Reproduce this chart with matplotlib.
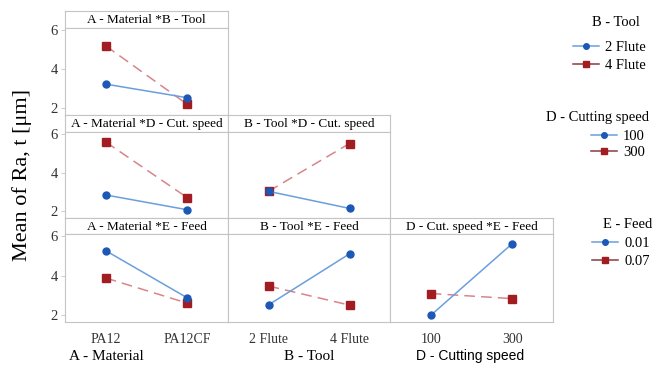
import matplotlib
matplotlib.use("Agg")
import matplotlib.pyplot as plt
from matplotlib.lines import Line2D

# factor levels
materials = ["PA12", "PA12CF"]
tools = ["2 Flute", "4 Flute"]
speeds = ["100", "300"]
feeds = ["0.01", "0.07"]

# interaction means (first trace = blue / circle, second = red / square)
ab_2flute = [3.23, 2.53]
ab_4flute = [5.20, 2.19]
ad_100 = [2.84, 2.07]
ad_300 = [5.60, 2.70]
bd_100 = [3.03, 2.14]
bd_300 = [3.03, 5.52]
ae_001 = [5.27, 2.87]
ae_007 = [3.88, 2.60]
be_001 = [2.51, 5.11]
be_007 = [3.47, 2.50]
de_001 = [1.98, 5.63]
de_007 = [3.09, 2.83]

plt.rcParams['font.family'] = ['Liberation Serif', 'DejaVu Serif']

W, H = 659, 366
fig = plt.figure(figsize=(W / 100, H / 100), dpi=100)

blue_m, blue_l = "#1c58b5", "#6a9fdc"
red_m, red_l = "#a11d22", "#d8858a"
edge = "#c4c4c4"

col_x = [65, 228, 390, 553]
rows = [(11, 28, 115), (115, 132, 218), (218, 234, 322)]  # strip top, plot top, plot bottom


def px_axes(x0, y0, x1, y1):
    return fig.add_axes([x0 / W, 1 - y1 / H, (x1 - x0) / W, (y1 - y0) / H])


panels = [
    (0, 0, "A - Material *B - Tool", materials, ab_2flute, ab_4flute),
    (1, 0, "A - Material *D - Cut. speed", materials, ad_100, ad_300),
    (1, 1, "B - Tool *D - Cut. speed", tools, bd_100, bd_300),
    (2, 0, "A - Material *E - Feed", materials, ae_001, ae_007),
    (2, 1, "B - Tool *E - Feed", tools, be_001, be_007),
    (2, 2, "D - Cut. speed *E - Feed", speeds, de_001, de_007),
]

for r, c, title, levels, s1, s2 in panels:
    st, pt, pb = rows[r]
    x0, x1 = col_x[c], col_x[c + 1]
    # title strip
    sax = px_axes(x0, st, x1, pt)
    sax.set_xticks([])
    sax.set_yticks([])
    for sp in sax.spines.values():
        sp.set_color(edge)
    sax.text(0.5, 0.45, title, ha="center", va="center", fontsize=9.5,
             transform=sax.transAxes)
    # plot area
    ax = px_axes(x0, pt, x1, pb)
    xs = range(len(levels))
    ax.plot(xs, s2, color=red_l, lw=1.1, ls=(0, (7, 4)), zorder=2)
    ax.plot(xs, s2, ls="none", marker="s", ms=5.5, color=red_m, zorder=3)
    ax.plot(xs, s1, color=blue_l, lw=1.1, zorder=4)
    ax.plot(xs, s1, ls="none", marker="o", ms=5, color=blue_m, zorder=5)
    ax.set_xlim(-0.5, 1.5)
    ax.set_ylim(1.64, 6.12)
    for sp in ax.spines.values():
        sp.set_color(edge)
    ax.set_yticks([2, 4, 6])
    ax.tick_params(colors="#333333", length=3, width=0.6, labelsize=10.5)
    ax.tick_params(axis="y", color=edge, pad=2)
    if c != 0:
        ax.set_yticklabels([])
        ax.tick_params(axis="y", length=0)
    ax.set_xticks(list(xs))
    if r == 2:
        ax.set_xticklabels(levels, fontsize=10)
        ax.tick_params(axis="x", length=0, pad=8)
    else:
        ax.set_xticklabels([])
        ax.tick_params(axis="x", length=0)

fig.text(22 / W, 1 - 175 / H, "Mean of Ra, t [\u03bcm]", rotation=90,
         ha="center", va="center", fontsize=16)
fig.text(106 / W, 1 - 357 / H, "A - Material", ha="center", va="center", fontsize=11)
fig.text(309 / W, 1 - 357 / H, "B - Tool", ha="center", va="center", fontsize=11)
fig.text(470 / W, 1 - 356 / H, "D - Cutting speed", ha="center", va="center",
         fontsize=10, family=["Liberation Sans", "DejaVu Sans"])


def handles():
    return [Line2D([], [], color=blue_l, lw=1.1, marker="o", ms=4,
                   markerfacecolor=blue_m, markeredgecolor=blue_m),
            Line2D([], [], color="#8a3a3e", lw=1.1, marker="s", ms=4,
                   markerfacecolor=red_m, markeredgecolor=red_m)]


# title text, title x (center), title y, levels, handle x, entries center y, spacing
legend_specs = [
    ("B - Tool", 616, 23, tools, 573, 56.5, 0.3),
    ("D - Cutting speed", 597, 117, speeds, 591, 144.5, 0.15),
    ("E - Feed", 628, 225, feeds, 592, 252.5, 0.3),
]
for ttl, tx, ty, labs, hx, ey, sp in legend_specs:
    fig.text(tx / W, 1 - ty / H, ttl, ha="center", va="center", fontsize=10.5)
    fig.legend(handles(), labs, loc="center left",
               bbox_to_anchor=(hx / W, 1 - ey / H), frameon=False,
               fontsize=10.5, handlelength=1.8, handletextpad=0.4,
               labelspacing=sp, borderpad=0, borderaxespad=0)

fig.savefig("out.png", dpi=100)
